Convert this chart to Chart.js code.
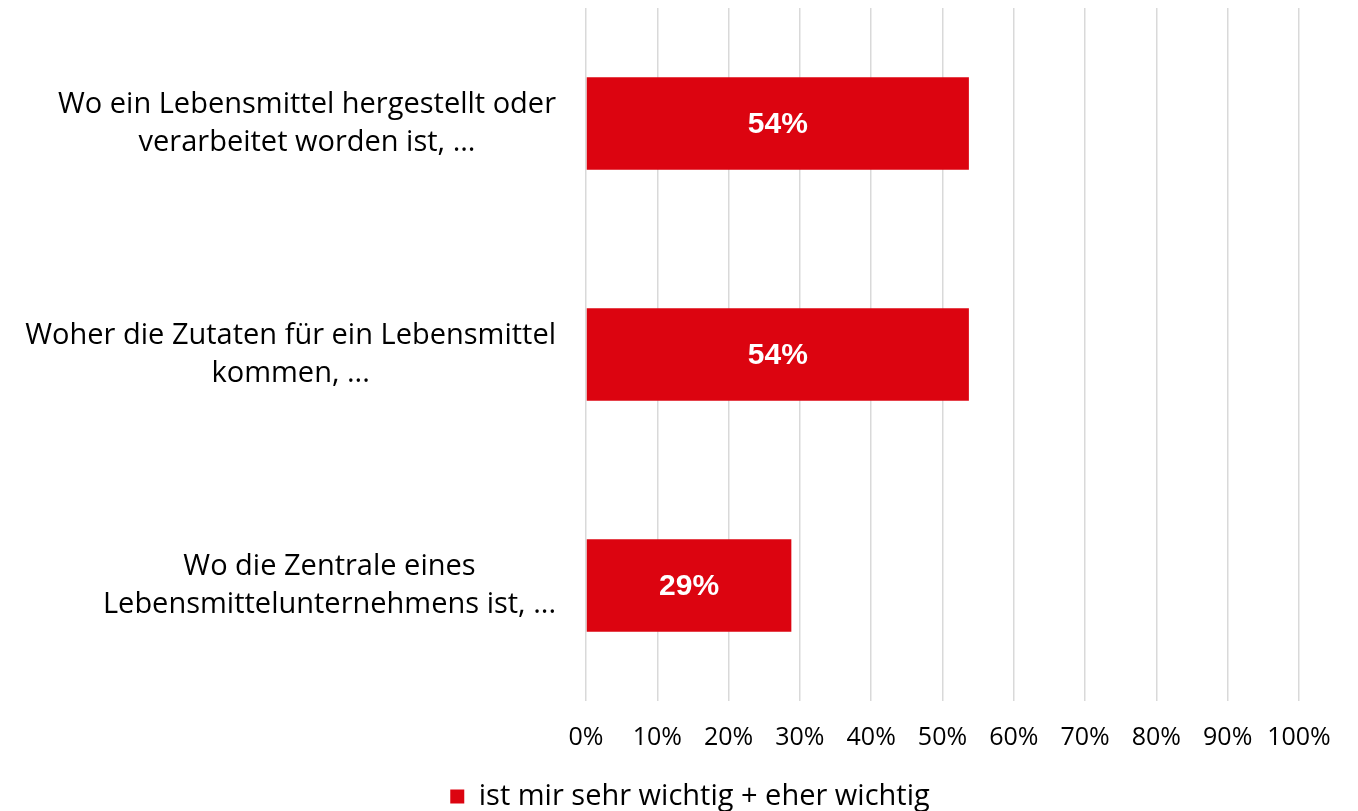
<!DOCTYPE html>
<html lang="de">
  <head>
    <meta charset="UTF-8" />
    <title>Herkunft von Lebensmitteln</title>
    <script src="https://cdn.jsdelivr.net/npm/chart.js"></script>
    <style>
      body {
        margin: 0;
        background: #ffffff;
      }
      #wrap {
        width: 1358px;
        height: 811px;
      }
    </style>
  </head>
  <body>
    <div id="wrap"><canvas id="chart"></canvas></div>
    <script>
      const categories = [
        ["Wo ein Lebensmittel hergestellt oder", "verarbeitet worden ist, ..."],
        ["Woher die Zutaten für ein Lebensmittel", "kommen, ..."],
        ["Wo die Zentrale eines", "Lebensmittelunternehmens ist, ..."],
      ];
      const seriesLabel = "ist mir sehr wichtig + eher wichtig";
      const values = [53.7, 53.7, 28.8];
      const valueLabels = ["54%", "54%", "29%"];

      const textFont = "'Open Sans', 'Liberation Sans', sans-serif";
      const barColor = "#dc0410";

      // draws the category labels: block right-aligned, lines centered
      const categoryLabels = {
        id: "categoryLabels",
        afterDraw(chart) {
          const ctx = chart.ctx;
          const y = chart.scales.y;
          const right = chart.chartArea.left - 30;
          ctx.save();
          ctx.font = "29px " + textFont;
          ctx.fillStyle = "#000000";
          ctx.textAlign = "center";
          ctx.textBaseline = "middle";
          const lineH = 38;
          categories.forEach((lines, i) => {
            const cy = y.getPixelForValue(i);
            const w = Math.max(...lines.map((l) => ctx.measureText(l).width));
            const cx = right - w / 2;
            lines.forEach((l, k) => {
              ctx.fillText(l, cx, cy + (k - (lines.length - 1) / 2) * lineH);
            });
          });
          ctx.restore();
        },
      };

      // value labels in the middle of each bar
      const barValues = {
        id: "barValues",
        afterDatasetsDraw(chart) {
          const ctx = chart.ctx;
          const meta = chart.getDatasetMeta(0);
          ctx.save();
          ctx.font = "bold 30px 'Liberation Sans', Arial, sans-serif";
          ctx.fillStyle = "#ffffff";
          ctx.textAlign = "center";
          ctx.textBaseline = "middle";
          meta.data.forEach((bar, i) => {
            ctx.fillText(valueLabels[i], (bar.x + bar.base) / 2, bar.y + 1);
          });
          ctx.restore();
        },
      };

      new Chart(document.getElementById("chart"), {
        type: "bar",
        data: {
          labels: categories.map((c) => c.join(" ")),
          datasets: [
            {
              label: seriesLabel,
              data: values,
              backgroundColor: barColor,
              categoryPercentage: 1,
              barPercentage: 0.4,
            },
          ],
        },
        options: {
          indexAxis: "y",
          responsive: true,
          maintainAspectRatio: false,
          animation: false,
          layout: { padding: { top: 8, right: 59, bottom: -10, left: 81 } },
          scales: {
            x: {
              min: 0,
              max: 100,
              ticks: {
                stepSize: 10,
                padding: 22,
                color: "#000000",
                font: { family: textFont, size: 25 },
                callback: (v) => v + "%",
              },
              grid: { color: "#d9d9d9", lineWidth: 1.5, tickLength: 0 },
              border: { display: false },
              afterFit(scale) {
                scale.height = 79;
              },
            },
            y: {
              ticks: { display: false },
              grid: { display: false },
              border: { display: false },
              afterFit(scale) {
                scale.width = 505;
              },
            },
          },
          plugins: {
            legend: {
              position: "bottom",
              labels: {
                boxWidth: 14,
                boxHeight: 14,
                color: "#000000",
                padding: 2,
                font: { family: textFont, size: 29 },
              },
            },
            tooltip: { enabled: false },
          },
        },
        plugins: [categoryLabels, barValues],
      });
    </script>
  </body>
</html>
